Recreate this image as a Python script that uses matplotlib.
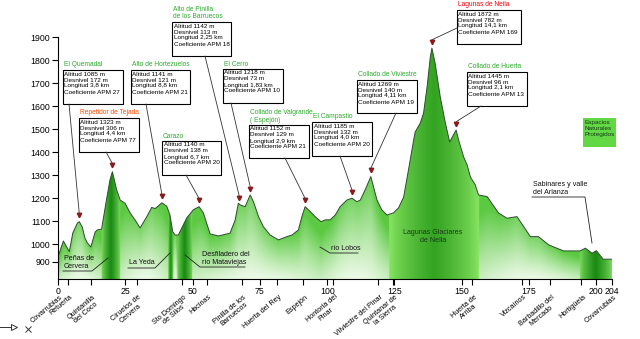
import numpy as np
import matplotlib.pyplot as plt
from matplotlib.patches import Polygon, Rectangle

plt.rcParams['font.family'] = ['Liberation Sans', 'DejaVu Sans']

# elevation profile (km, m)
km = [0, 2.0, 4.2, 5.5, 7.2, 7.9, 9.0, 10.0, 10.9, 12.2, 13.8, 14.6, 16.2, 17.8, 19.3, 20.2,
      21.8, 23.1, 24.9, 26.8, 28.6, 30.5, 33.0, 34.8, 36.1, 38.6, 40.4, 41.6, 42.6, 43.5, 44.7,
      46.0, 47.8, 50.3, 52.4, 54.0, 56.5, 59.6, 63.9, 65.8, 67.0, 67.7, 69.5, 71.4, 72.6, 74.5,
      76.3, 78.8, 81.9, 85.0, 86.9, 89.3, 90.6, 91.8, 93.7, 95.5, 97.7, 99.3, 101.1, 103.0,
      104.8, 107.3, 109.2, 111.0, 112.3, 114.1, 116.2, 118.5, 120.3, 122.2, 124.6, 126.5, 128.4,
      130.2, 132.1, 132.7, 134.6, 135.8, 137.1, 138.3, 138.9, 140.1, 142.0, 143.9, 145.5, 146.9,
      147.9, 148.8, 150.7, 152.0, 153.2, 155.0, 156.2, 159.4, 163.7, 166.8, 170.5, 175.5, 178.5,
      182.3, 187.8, 194.0, 195.9, 198.4, 200.0, 202.5, 205.8]
elev = [945, 1014, 968, 1049, 1092, 1098, 1075, 1027, 1006, 988, 1053, 1062, 1066, 1179, 1279, 1315,
        1236, 1192, 1178, 1136, 1106, 1071, 1120, 1160, 1155, 1180, 1165, 1127, 1055, 1040, 1040,
        1071, 1114, 1150, 1163, 1136, 1045, 1036, 1048, 1105, 1178, 1171, 1163, 1214, 1185, 1120,
        1076, 1040, 1019, 1033, 1040, 1062, 1120, 1163, 1142, 1120, 1098, 1106, 1106, 1127,
        1163, 1192, 1200, 1185, 1192, 1236, 1294, 1192, 1149, 1127, 1136, 1158, 1205,
        1323, 1452, 1488, 1527, 1570, 1683, 1813, 1852, 1786, 1640, 1527, 1444, 1475,
        1496, 1453, 1379, 1344, 1292, 1258, 1214, 1207, 1135, 1113, 1120, 1033, 1033,
        997, 971, 971, 983, 961, 972, 935, 935]

# protected areas (km ranges)
bands = [(16.2, 23.0), (40.9, 42.75), (44.2, 49.8), (123.0, 156.5), (194.0, 205.8)]
splits = [97.7]

# climbs
peak_names = ['El Quemadal', 'Repetidor de Tejada', 'Alto de Hortezuelos', 'Carazo',
              'Alto de Pinilla\nde los Barruecos', 'El Cerro', 'Collado de Valgrande\n( Espejón)',
              'El Campastio', 'Collado de Viviestre', 'Lagunas de Neila', 'Collado de Huerta']
peak_km = [7.9, 20.2, 38.6, 52.4, 67.3, 71.4, 91.8, 109.2, 116.2, 138.9, 147.9]
altitud = [1085, 1323, 1141, 1140, 1142, 1218, 1152, 1185, 1269, 1872, 1445]
desnivel = [172, 306, 121, 138, 113, 73, 129, 132, 140, 782, 96]
longitud = ['3,8', '4,4', '8,8', '6,7', '2,25', '1,83', '2,9', '4,0', '4,11', '14,1', '2,1']
coef = [27, 77, 21, 20, 18, 10, 21, 20, 19, 169, 13]
title_colors = ['#2eaa2e', '#ff4a00', '#2eaa2e', '#2eaa2e', '#2eaa2e', '#2eaa2e', '#2eaa2e',
                '#2eaa2e', '#2eaa2e', '#e8000b', '#2eaa2e']

# towns on the x axis
town_km = [0, 3.7, 12.3, 29.2, 46.0, 55.3, 68.3, 81.3, 91.1, 102.2, 118.9, 124.5,
           153.9, 172.4, 182.9, 194.4, 205.8]
town_names = ['Covarrubias', 'Retuerta', 'Quintanilla\ndel Coco', 'Ciruelos de\nCervera',
              'Sto Domingo\nde Silos', 'Hacinas', 'Pinilla de los\nBarruecos', 'Huerta del Rey',
              'Espejón', 'Hontoria del\nPinar', 'Vilviestre del Pinar', 'Quintanar de\nla Sierra',
              'Huerta de\nArriba', 'Vizcaínos', 'Barbadillo del\nMercado', 'Hortigüela', 'Covarrubias']

xtick_pos = [0, 25, 50, 75, 100, 125, 150, 175, 200, 205.8]
xtick_lab = ['0', '25', '50', '75', '100', '125', '150', '175', '200', '204']
ytick_pos = [925, 1000, 1100, 1200, 1300, 1400, 1500, 1600, 1700, 1800, 1900]
ytick_lab = ['900', '1000', '1100', '1200', '1300', '1400', '1500', '1600', '1700', '1800', '1900']

km = np.array(km)
elev = np.array(elev, dtype=float)
ymin, ymax = 849, 2061

fig = plt.figure(figsize=(6.4, 3.39), dpi=100)
ax = fig.add_axes([58 / 640, 1 - 279 / 339, (612 - 58) / 640, 279 / 339])
ax.set_xlim(0, km[-1])
ax.set_ylim(ymin, ymax)

# gradient image for the fill
W, H = 900, 700
xs = np.linspace(0, km[-1], W)
ys = np.linspace(ymin, ymax, H)
curve = np.interp(xs, km, elev)
img = np.ones((H, W, 3))
light = np.array([0.93, 0.98, 0.91])
green = np.array([0.36, 0.79, 0.26])
edges = sorted(set([0, km[-1]] + [b for bb in bands for b in bb] + splits))
for j, x in enumerate(xs):
    band = [b for b in bands if b[0] <= x <= b[1]]
    if band:
        b0, b1 = band[0]
        t = (x - b0) / (b1 - b0)
        d = (1 - abs(2 * t - 1)) ** 0.7
        if b1 - b0 > 20:
            c_l, c_d = np.array([0.55, 0.91, 0.40]), np.array([0.20, 0.64, 0.13])
        else:
            c_l, c_d = np.array([0.50, 0.87, 0.38]), np.array([0.10, 0.54, 0.07])
        img[:, j] = c_l + (c_d - c_l) * d
        continue
    lo = max(e for e in edges if e <= x)
    hi = min(e for e in edges if e > x) if x < km[-1] else km[-1]
    t = (x - lo) / max(hi - lo, 1e-6)
    h = np.sin(np.pi * t)
    f = np.clip((ys - ymin) / (curve[j] - ymin), 0, 1) ** 1.1
    g = f * (0.8 + 0.2 * (1 - h)) + 0.25 * (1 - h)
    g = np.clip(g, 0, 1)
    img[:, j] = light + (green - light) * g[:, None]

poly = Polygon(np.column_stack([np.r_[km[0], km, km[-1]], np.r_[ymin, elev, ymin]]),
               closed=True, facecolor='none', edgecolor='none')
ax.add_patch(poly)
im = ax.imshow(img, extent=[0, km[-1], ymin, ymax], origin='lower', aspect='auto',
               interpolation='bilinear', zorder=1)
im.set_clip_path(poly)
ax.plot(km, elev, color='#2f4a2f', lw=0.7, zorder=2)

marker_elev = np.interp(peak_km, km, elev) + 28
ax.plot(peak_km, marker_elev, 'v', color='#8b1a1a', ms=3.2, zorder=3)

ax.spines['top'].set_visible(False)
ax.spines['right'].set_visible(False)
ax.spines['left'].set_bounds(ymin, 1900)
for s in ('left', 'bottom'):
    ax.spines[s].set_linewidth(0.8)
ax.set_yticks(ytick_pos, ytick_lab)
ax.set_xticks(xtick_pos, xtick_lab)
ax.set_xticks(town_km, minor=True)
ax.tick_params(axis='both', which='both', direction='out', length=4, width=0.8, labelsize=6.3, pad=1.5)

for tk, tn in zip(town_km, town_names):
    ax.annotate(tn, xy=(tk, 0), xycoords=('data', 'axes fraction'), xytext=(1, -10.5),
                textcoords='offset points', rotation=40, ha='right', va='top',
                rotation_mode='anchor', fontsize=5.2, multialignment='center', linespacing=1.0)

# overlay in pixel coordinates for boxes and notes
ov = fig.add_axes([0, 0, 1, 1], zorder=5)
ov.set_xlim(0, 640)
ov.set_ylim(339, 0)
ov.axis('off')

boxes = [(63, 70, 123, 104), (79, 118, 139, 152), (131, 70, 190, 104), (162, 141, 221, 175),
         (172, 22, 231, 56), (223, 69, 283, 103), (249, 125, 309, 158), (312, 122, 372, 156),
         (357, 80, 417, 113), (457, 10, 521, 44), (467, 72, 527, 106)]
leader_start = [(69, 104), (106, 152), (146, 104), (186, 175), (205, 56), (231, 103),
                (285, 158), (340, 156), (396, 113), (457, 28), (481, 106)]

for i, (l, t, r, b) in enumerate(boxes):
    ov.add_patch(Rectangle((l + 1, t + 1), r - l, b - t, facecolor='#b0b0b0', edgecolor='none', zorder=1))
    ov.add_patch(Rectangle((l, t), r - l, b - t, facecolor='white', edgecolor='black', lw=0.8, zorder=2))
    txt = (f'Altitud {altitud[i]} m\nDesnivel {desnivel[i]} m\n'
           f'Longitud {longitud[i]} km\nCoeficiente APM {coef[i]}')
    ov.text(l + 1.5, t + 1.5, txt, va='top', ha='left', fontsize=4.55, linespacing=1.25, zorder=3)
    ov.text(l + 1, t - 1.5, peak_names[i], va='bottom', ha='left', fontsize=4.8,
            color=title_colors[i], linespacing=1.1, zorder=3)
    ov.annotate('', xy=(peak_km[i], marker_elev[i] + 8), xycoords=ax.transData,
                xytext=leader_start[i], textcoords='data',
                arrowprops=dict(arrowstyle='-', lw=0.6, color='#333333', shrinkA=0, shrinkB=0))

# legend box
ov.add_patch(Rectangle((583, 118), 33, 29, facecolor='#62d844', edgecolor='none'))
ov.text(584.5, 120, 'Espacios\nNaturales\nProtegidos', va='top', ha='left', fontsize=4.6,
        color='#1a3a1a', linespacing=1.25)

# notes inside the profile
note_kw = dict(fontsize=5.1, color='#111111', linespacing=1.2)
ov.text(64, 269.5, 'Peñas de\nCervera', va='bottom', ha='left', **note_kw)
ov.plot([63, 92, 108], [271, 271, 258], color='#222222', lw=0.6)
ov.text(129, 266.5, 'La Yeda', va='bottom', ha='left', **note_kw)
ov.plot([128, 155, 170], [268, 268, 253], color='#222222', lw=0.6)
ov.text(202, 266, 'Desfiladero del\nrío Mataviejas', va='bottom', ha='left', **note_kw)
ov.plot([185, 200, 245], [255, 267, 267], color='#222222', lw=0.6)
ov.text(331, 251.5, 'río Lobos', va='bottom', ha='left', **note_kw)
ov.plot([320, 330, 358], [247, 253, 253], color='#222222', lw=0.6)
ov.text(433, 236, 'Lagunas Glaciares\nde Neila', va='center', ha='center',
        multialignment='center', fontsize=5.1, color='#1a3a1a', linespacing=1.2)
ov.text(533, 195.5, 'Sabinares y valle\ndel Arlanza', va='bottom', ha='left', **note_kw)
ov.plot([532, 585, 592], [197, 197, 243], color='#222222', lw=0.6)

# direction symbol bottom-left
ov.plot([0, 11], [327, 327], color='#333333', lw=0.7)
ov.plot([14], [327], marker='>', ms=5, mfc='white', mec='#333333', mew=0.7)
ov.plot([28], [329], marker='x', ms=5, color='#333333', mew=0.7)

fig.savefig('out.png', dpi=100)
